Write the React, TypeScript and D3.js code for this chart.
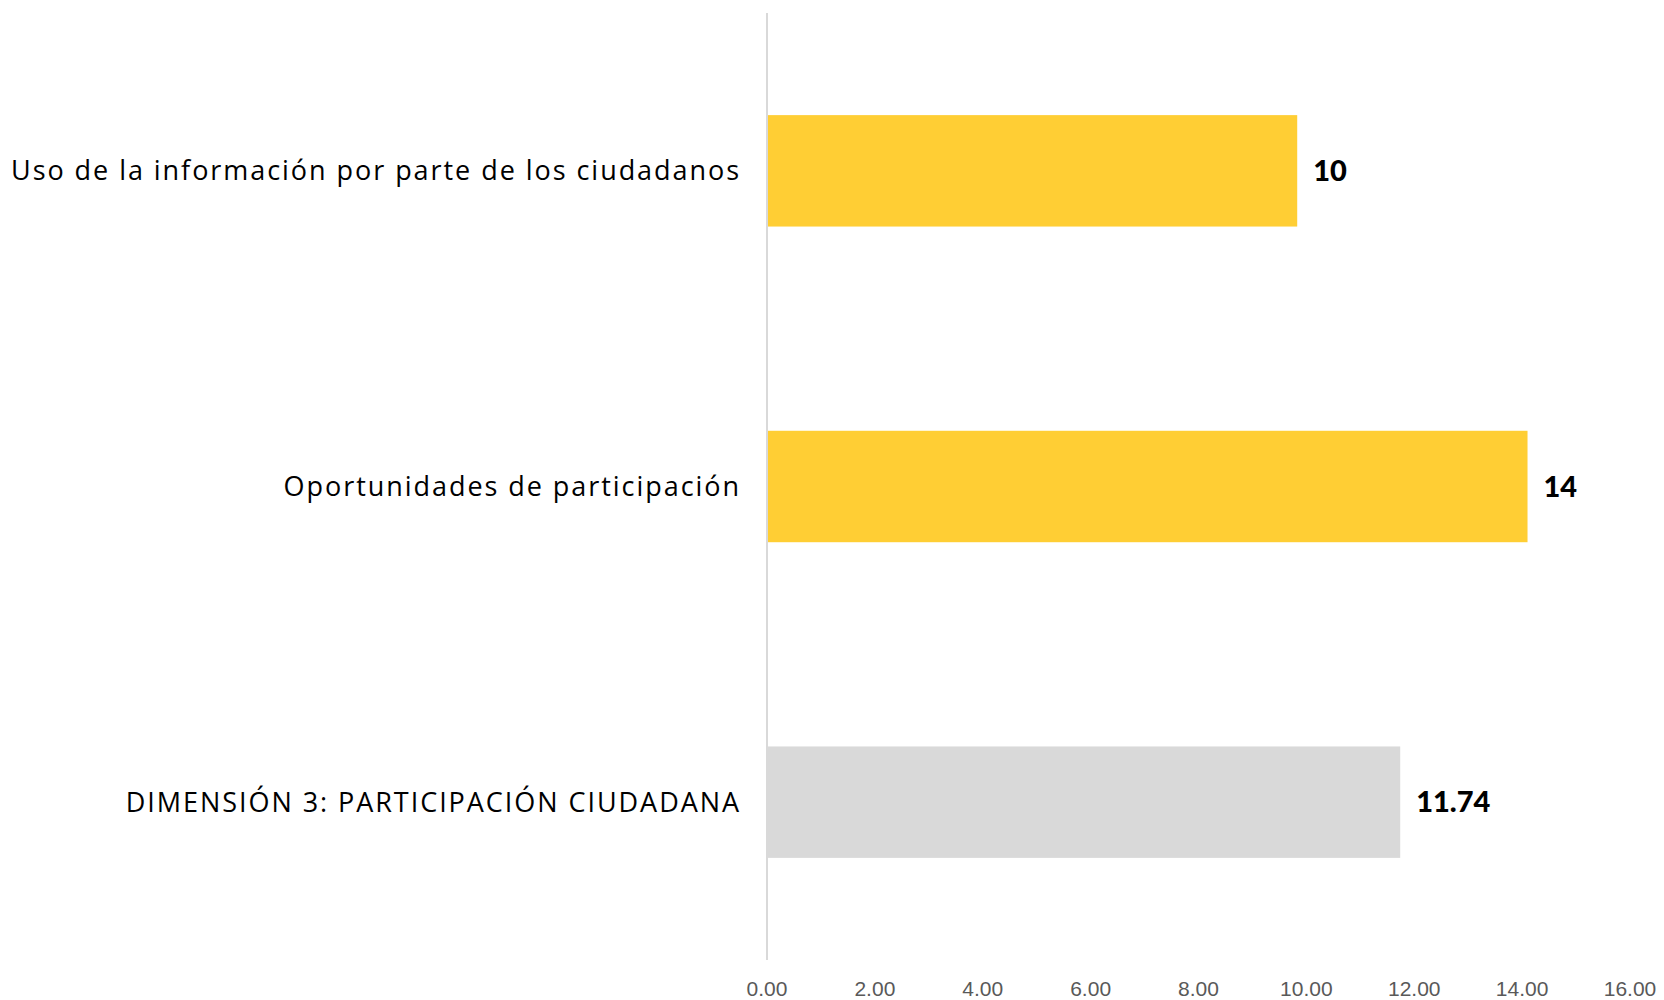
import React, { useEffect, useRef } from "react";
import * as d3 from "d3";

const categories = [
  "Uso de la información por parte de los ciudadanos",
  "Oportunidades de participación",
  "DIMENSIÓN 3: PARTICIPACIÓN CIUDADANA",
];
const values = [9.83, 14.1, 11.74];
const valueLabels = ["10", "14", "11.74"];
const barColors = ["#ffce34", "#ffce34", "#d9d9d9"];
const xTicks = [0, 2, 4, 6, 8, 10, 12, 14, 16];

export default function App() {
  const ref = useRef<SVGSVGElement | null>(null);

  useEffect(() => {
    const width = 1664;
    const height = 1000;
    const margin = { top: 13, right: 34, bottom: 40, left: 767 };
    const innerWidth = width - margin.left - margin.right;
    const innerHeight = height - margin.top - margin.bottom;

    const svg = d3.select(ref.current).attr("width", width).attr("height", height);
    svg.selectAll("*").remove();
    const g = svg.append("g").attr("transform", `translate(${margin.left},${margin.top})`);

    const x = d3.scaleLinear().domain([0, 16]).range([0, innerWidth]);
    const y = d3
      .scaleBand()
      .domain(categories)
      .range([0, innerHeight])
      .paddingInner(0.647)
      .paddingOuter(0.3235);

    // bars
    g.selectAll("rect.bar")
      .data(categories)
      .join("rect")
      .attr("class", "bar")
      .attr("x", x(0))
      .attr("y", (d) => y(d)!)
      .attr("width", (d, i) => x(values[i]) - x(0))
      .attr("height", y.bandwidth())
      .attr("fill", (d, i) => barColors[i]);

    // vertical axis line
    g.append("line")
      .attr("x1", x(0))
      .attr("x2", x(0))
      .attr("y1", 0)
      .attr("y2", innerHeight)
      .attr("stroke", "#d9d9d9")
      .attr("stroke-width", 2);

    // category labels
    g.selectAll("text.cat")
      .data(categories)
      .join("text")
      .attr("class", "cat")
      .attr("x", x(0) - 26)
      .attr("y", (d) => y(d)! + y.bandwidth() / 2)
      .attr("dy", "0.35em")
      .attr("text-anchor", "end")
      .attr("font-family", "'Open Sans', sans-serif")
      .attr("font-size", 27)
      .attr("letter-spacing", 1.95)
      .attr("fill", "#000")
      .text((d) => d);

    // value labels
    g.selectAll("text.val")
      .data(categories)
      .join("text")
      .attr("class", "val")
      .attr("x", (d, i) => x(values[i]) + 16)
      .attr("y", (d) => y(d)! + y.bandwidth() / 2)
      .attr("dy", "0.35em")
      .attr("font-family", "Lato, 'Open Sans', sans-serif")
      .attr("font-weight", 900)
      .attr("font-size", 29)
      .attr("fill", "#000")
      .text((d, i) => valueLabels[i]);

    // x tick labels
    g.selectAll("text.tick")
      .data(xTicks)
      .join("text")
      .attr("class", "tick")
      .attr("x", (d) => x(d))
      .attr("y", innerHeight + 29)
      .attr("dy", "0.35em")
      .attr("text-anchor", "middle")
      .attr("font-family", "'Liberation Sans', Arial, sans-serif")
      .attr("font-size", 21)
      .attr("fill", "#595959")
      .text((d) => d3.format(".2f")(d));
  }, []);

  return <svg ref={ref} style={{ position: "absolute", left: 0, top: 0 }} />;
}
